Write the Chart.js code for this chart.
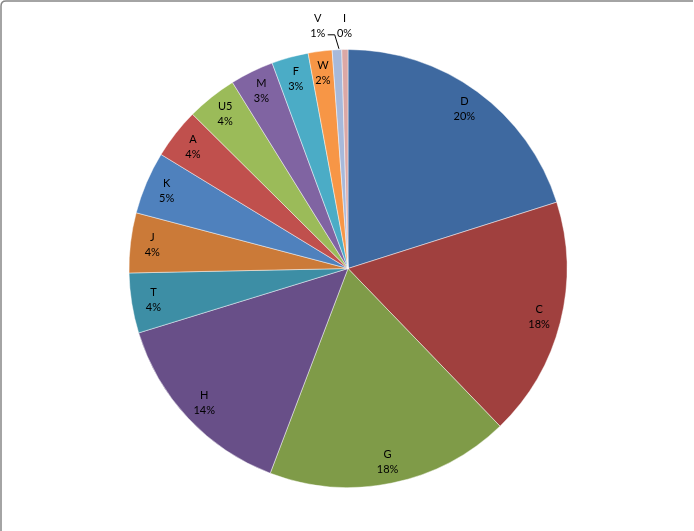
<!DOCTYPE html>
<html>
<head>
<meta charset="utf-8">
<script src="https://cdn.jsdelivr.net/npm/chart.js@4"></script>
<style>
  html, body { margin: 0; padding: 0; background: #fff; }
  #wrap { width: 694px; height: 531px; position: relative; }
</style>
</head>
<body>
<div id="wrap"><canvas id="myChart"></canvas></div>
<script>
// slices, clockwise from 12 o'clock
const categories = ['D', 'C', 'G', 'H', 'T', 'J', 'K', 'A', 'U5', 'M', 'F', 'W', 'V', 'I'];
const shares = [20.0, 17.6, 17.9, 14.4, 4.4, 4.4, 4.6, 3.7, 3.7, 3.2, 2.7, 1.75, 0.7, 0.45];
const sliceColors = ['#3E69A0', '#A0403E', '#7F9B48', '#684F88', '#3D8EA5', '#CB7A38',
                     '#4F81BD', '#C0504D', '#9BBB59', '#8064A2', '#4BACC6', '#F79646',
                     '#A7B9DA', '#DBA8A6'];

const total = shares.reduce((a, b) => a + b, 0);

function pctText(v) {
    return Math.round(v / total * 100) + '%';
}

// grey frame on the top and left edge, like the spreadsheet chart area
const framePlugin = {
    id: 'frame',
    beforeDraw(chart) {
        const ctx = chart.ctx;
        ctx.save();
        ctx.strokeStyle = '#878787';
        ctx.lineWidth = 1.5;
        ctx.beginPath();
        ctx.moveTo(1, chart.height + 5);
        ctx.lineTo(1, 6);
        ctx.quadraticCurveTo(1, 1, 6, 1);
        ctx.lineTo(chart.width - 1, 1);
        ctx.stroke();
        ctx.restore();
    }
};

// two-line labels (name + percent)
const sliceLabels = {
    id: 'sliceLabels',
    afterDatasetsDraw(chart) {
        const ctx = chart.ctx;
        const meta = chart.getDatasetMeta(0);
        ctx.save();
        ctx.font = '11px Lato, "Open Sans", sans-serif';
        ctx.fillStyle = '#000';
        ctx.textAlign = 'center';
        ctx.textBaseline = 'middle';
        meta.data.forEach((arc, i) => {
            const p = arc.getProps(['x', 'y', 'startAngle', 'endAngle', 'outerRadius'], true);
            const mid = (p.startAngle + p.endAngle) / 2;
            const pct = shares[i] / total * 100;
            if (pct >= 1) {
                const r = p.outerRadius * 0.9;
                const lx = p.x + Math.cos(mid) * r;
                const ly = p.y + Math.sin(mid) * r;
                ctx.fillText(categories[i], lx, ly - 7.5);
                ctx.fillText(pctText(shares[i]), lx, ly + 7.5);
            } else {
                // tiny slices go outside the pie
                const r = p.outerRadius + 24;
                let lx = p.x + Math.cos(mid) * r;
                const ly = p.y + Math.sin(mid) * r;
                const shifted = i === categories.length - 2;
                if (shifted) lx -= 18;
                ctx.fillText(categories[i], lx, ly - 7.5);
                ctx.fillText(pctText(shares[i]), lx, ly + 7.5);
                if (shifted) {
                    const ex = p.x + Math.cos(mid) * p.outerRadius;
                    const ey = p.y + Math.sin(mid) * p.outerRadius;
                    const sx = lx + 10;
                    const sy = ly + 9;
                    ctx.strokeStyle = '#000';
                    ctx.lineWidth = 1;
                    ctx.beginPath();
                    ctx.moveTo(sx, sy);
                    ctx.lineTo(sx + 7, sy);
                    ctx.lineTo(ex + 2, ey - 1);
                    ctx.stroke();
                }
            }
        });
        ctx.restore();
    }
};

const ctx = document.querySelector('#myChart').getContext('2d');
const myChart = new Chart(ctx, {
    type: 'pie',
    data: {
        labels: categories,
        datasets: [{
            data: shares,
            backgroundColor: sliceColors,
            borderColor: 'rgba(255,255,255,0.45)',
            borderWidth: 1
        }]
    },
    options: {
        responsive: true,
        maintainAspectRatio: false,
        animation: false,
        layout: { padding: { top: 49, bottom: 43, left: 2, right: 0 } },
        plugins: {
            legend: { display: false },
            tooltip: { enabled: false }
        }
    },
    plugins: [framePlugin, sliceLabels]
});
</script>
</body>
</html>
